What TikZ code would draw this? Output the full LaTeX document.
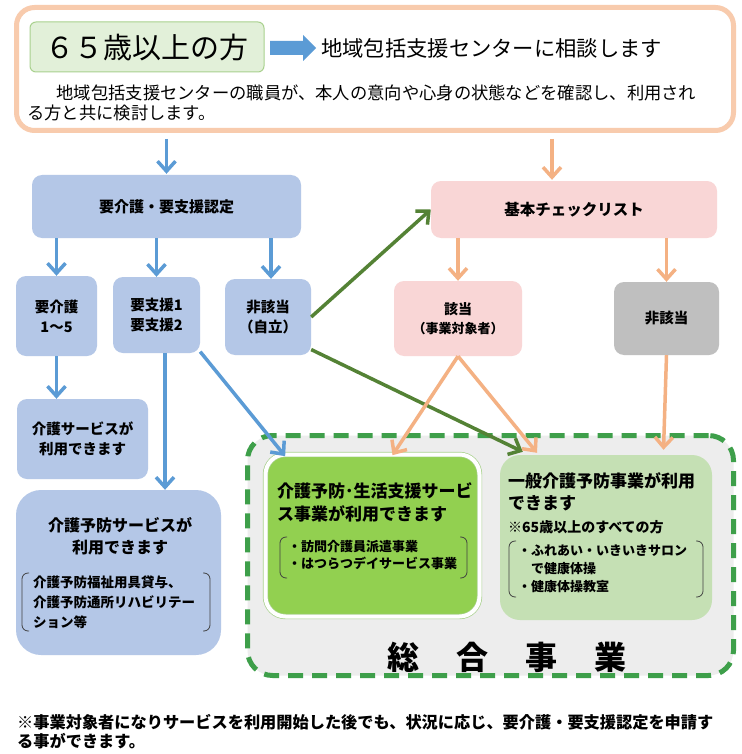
\documentclass[tikz,border=0pt]{standalone}
\usepackage{fontspec}
\setmainfont{Noto Sans CJK JP}
\usetikzlibrary{arrows.meta,calc}
\definecolor{boxblue}{HTML}{B4C7E7}
\definecolor{arrblue}{HTML}{5B9BD5}
\definecolor{boxpink}{HTML}{F9D6D6}
\definecolor{arrorange}{HTML}{F4B183}
\definecolor{peach}{HTML}{F8CBAD}
\definecolor{darkgreen}{HTML}{548235}
\definecolor{dashgreen}{HTML}{3E9F4A}
\definecolor{boxgrey}{HTML}{BFBFBF}
\definecolor{brightgreen}{HTML}{92D050}
\definecolor{lightgreen}{HTML}{C5E0B4}
\definecolor{titlegreen}{HTML}{E2F0D9}
\definecolor{titlegreenline}{HTML}{A9D18E}
\definecolor{areagrey}{HTML}{EDEDED}
\definecolor{brkgrey}{HTML}{404040}
\tikzset{
  base/.style={rounded corners=10pt, inner sep=0pt, align=center, text=black,
    font=\bfseries\fontsize{14.5}{20}\selectfont},
  bluebox/.style={base, fill=boxblue},
  pinkbox/.style={base, fill=boxpink},
  greybox/.style={base, fill=boxgrey},
  plain/.style={inner sep=0pt, text=black},
  arrowhd/.style={-{Straight Barb[length=10pt,width=18pt]}},
  barr/.style={line width=3.5pt, draw=arrblue, arrowhd},
  oarr/.style={line width=3.5pt, draw=arrorange, arrowhd},
  garr/.style={line width=3.5pt, draw=darkgreen, arrowhd},
  brk/.style={draw=brkgrey, line width=0.8pt, rounded corners=6pt},
}
\newcommand\mybrackets[4]{%
  \draw[brk] (#1+7,#2) -- (#1,#2) -- (#1,#4) -- (#1+7,#4);
  \draw[brk] (#3-7,#2) -- (#3,#2) -- (#3,#4) -- (#3-7,#4);}
\begin{document}
\begin{tikzpicture}[x=1pt,y=-1pt]
\useasboundingbox (0,0) rectangle (741,754);
\fill[white] (0,0) rectangle (741,754);

% top area
\node[draw=peach, line width=5pt, rounded corners=18pt, fill=white,
  minimum width=717pt, minimum height=123pt, inner sep=0pt] (top) at (375,69) {};
\node[draw=titlegreenline, fill=titlegreen, line width=1pt, rounded corners=6pt,
  minimum width=234pt, minimum height=50pt, inner sep=0pt,
  font=\fontsize{29}{32}\selectfont] (title) at (147,47) {６５歳以上の方};
\fill[arrblue] (270,41) -- (303,41) -- (303,35) -- (316,48) -- (303,61) -- (303,55) -- (270,55) -- cycle;
\node[plain, anchor=west, font=\fontsize{21.3}{24}\selectfont] (consult) at (321,48)
  {地域包括支援センターに相談します};
\node[plain, anchor=west, font=\fontsize{17.3}{20}\selectfont] (p1) at (39,93)
  {　地域包括支援センターの職員が、本人の意向や心身の状態などを確認し、利用され};
\node[plain, anchor=west, font=\fontsize{17.3}{20}\selectfont] (p2) at (27,113)
  {る方と共に検討します。};

% second row
\node[bluebox, minimum width=269pt, minimum height=63pt, font=\bfseries\fontsize{15}{20}\selectfont] (rq) at (166.5,206.5) {要介護・要支援認定};
\node[pinkbox, minimum width=286pt, minimum height=57pt, font=\bfseries\fontsize{15.5}{20}\selectfont] (kc) at (574,209.5) {基本チェックリスト};

% third row
\node[bluebox, minimum width=81pt, minimum height=80pt] (k15) at (56.5,316) {要介護\\1〜5};
\node[bluebox, minimum width=87pt, minimum height=76pt] (s12) at (156.5,315) {要支援1\\要支援2};
\node[bluebox, minimum width=86pt, minimum height=76pt] (hg) at (268,317) {非該当\\（自立）};
\node[pinkbox, minimum width=128pt, minimum height=75pt, font=\bfseries\fontsize{14}{19}\selectfont] (gt) at (458,318.5) {該当\\{\fontsize{13}{19}\selectfont（事業対象者）}};
\node[greybox, minimum width=105pt, minimum height=73pt] (hg2) at (666.5,318.5) {非該当};

% left lower boxes
\node[bluebox, minimum width=131pt, minimum height=80pt] (ks) at (82.5,439) {介護サービスが\\利用できます};
\node[bluebox, rounded corners=25pt, minimum width=205pt, minimum height=165pt] (kys) at (118.5,572.5) {};
\node[plain, align=center, font=\bfseries\fontsize{16}{22}\selectfont] (kyst) at (120,536) {介護予防サービスが\\利用できます};
\mybrackets{22}{573}{210}{631}
\node[plain, anchor=north west, align=left, font=\bfseries\fontsize{13.5}{20}\selectfont] (kysl) at (33,576)
  {介護予防福祉用具貸与、\\介護予防通所リハビリテー\\ション等};

% general area
\node[draw=dashgreen, line width=5pt, dash pattern=on 15pt off 9pt, fill=areagrey,
  rounded corners=25pt, minimum width=486pt, minimum height=240pt, inner sep=0pt] (sg) at (490.5,555.5) {};
\node[draw=titlegreenline, line width=0.7pt, double=white, double distance=4pt, fill=brightgreen,
  rounded corners=20pt, minimum width=214pt, minimum height=162pt, inner sep=0pt] (sk) at (372.5,535.5) {};
\node[plain, anchor=north west, align=left, font=\bfseries\fontsize{17}{23}\selectfont] (skt) at (277,482)
  {介護予防･生活支援サービ\\ス事業が利用できます};
\mybrackets{280}{537}{467}{578}
\node[plain, anchor=north west, align=left, font=\bfseries\fontsize{13}{17}\selectfont] (skl) at (288,540)
  {・訪問介護員派遣事業\\・はつらつデイサービス事業};

\node[fill=lightgreen, rounded corners=20pt, minimum width=212pt, minimum height=165pt, inner sep=0pt] (ip) at (606,537.5) {};
\node[plain, anchor=north west, align=left, font=\bfseries\fontsize{17}{22}\selectfont] (ipt) at (508,472)
  {一般介護予防事業が利用\\できます};
\node[plain, anchor=west, font=\bfseries\fontsize{14}{18}\selectfont] (ipn) at (508,527) {※65歳以上のすべての方};
\mybrackets{509}{541}{703}{597}
\node[plain, anchor=north west, align=left, font=\bfseries\fontsize{13}{18}\selectfont] (ipl) at (518,545)
  {・ふれあい・いきいきサロン\\　で健康体操\\・健康体操教室};

\node[plain, font=\bfseries\fontsize{32}{36}\selectfont] (sgt) at (507,657)
  {総\hspace{37pt}合\hspace{37pt}事\hspace{37pt}業};

% footer
\node[plain, anchor=west, font=\bfseries\fontsize{16.2}{20}\selectfont] (f1) at (17,722)
  {※事業対象者になりサービスを利用開始した後でも、状況に応じ、要介護・要支援認定を申請す};
\node[plain, anchor=west, font=\bfseries\fontsize{16.2}{20}\selectfont] (f2) at (17,741)
  {る事ができます。};

% connectors
\coordinate (c1) at (rq.north);
\draw[barr, shorten <=6pt, shorten >=1pt] (c1 |- top.south) -- (c1);
\coordinate (c2) at ([xshift=-22pt]kc.north);
\draw[oarr, shorten <=6pt, shorten >=1pt] (c2 |- top.south) -- (c2);
\draw[barr] (k15.north |- rq.south) -- (k15.north);
\draw[barr] (s12.north |- rq.south) -- (s12.north);
\coordinate (c3) at ([xshift=3pt]hg.north);
\draw[barr] (c3 |- rq.south) -- (c3);
\draw[oarr] (gt.north |- kc.south) -- (gt.north);
\draw[oarr] (hg2.north |- kc.south) -- (hg2.north);
\draw[barr] (k15.south) -- (k15.south |- ks.north);
\coordinate (c4) at ([xshift=8.5pt]s12.south);
\draw[barr] (c4) -- (c4 |- kys.north);
\coordinate (c5) at ([xshift=20pt,yshift=-2pt]sk.north west);
\draw[barr] (s12.-40) -- (c5);
\draw[garr] (hg.east) -- (kc.west);
\coordinate (c6) at ([xshift=23pt,yshift=3pt]ip.north west);
\draw[garr] (hg.-37) -- (c6);
\coordinate (c7) at ([xshift=20pt,yshift=-1pt]sk.north);
\draw[oarr] (gt.south) -- (c7);
\coordinate (c8) at ([xshift=-69pt,yshift=2pt]ip.north);
\draw[oarr] (gt.south) -- (c8);
\coordinate (c9) at ([xshift=-3pt,yshift=5pt]ip.north -| hg2.south);
\draw[oarr] (hg2.south) -- (c9);
\end{tikzpicture}
\end{document}
